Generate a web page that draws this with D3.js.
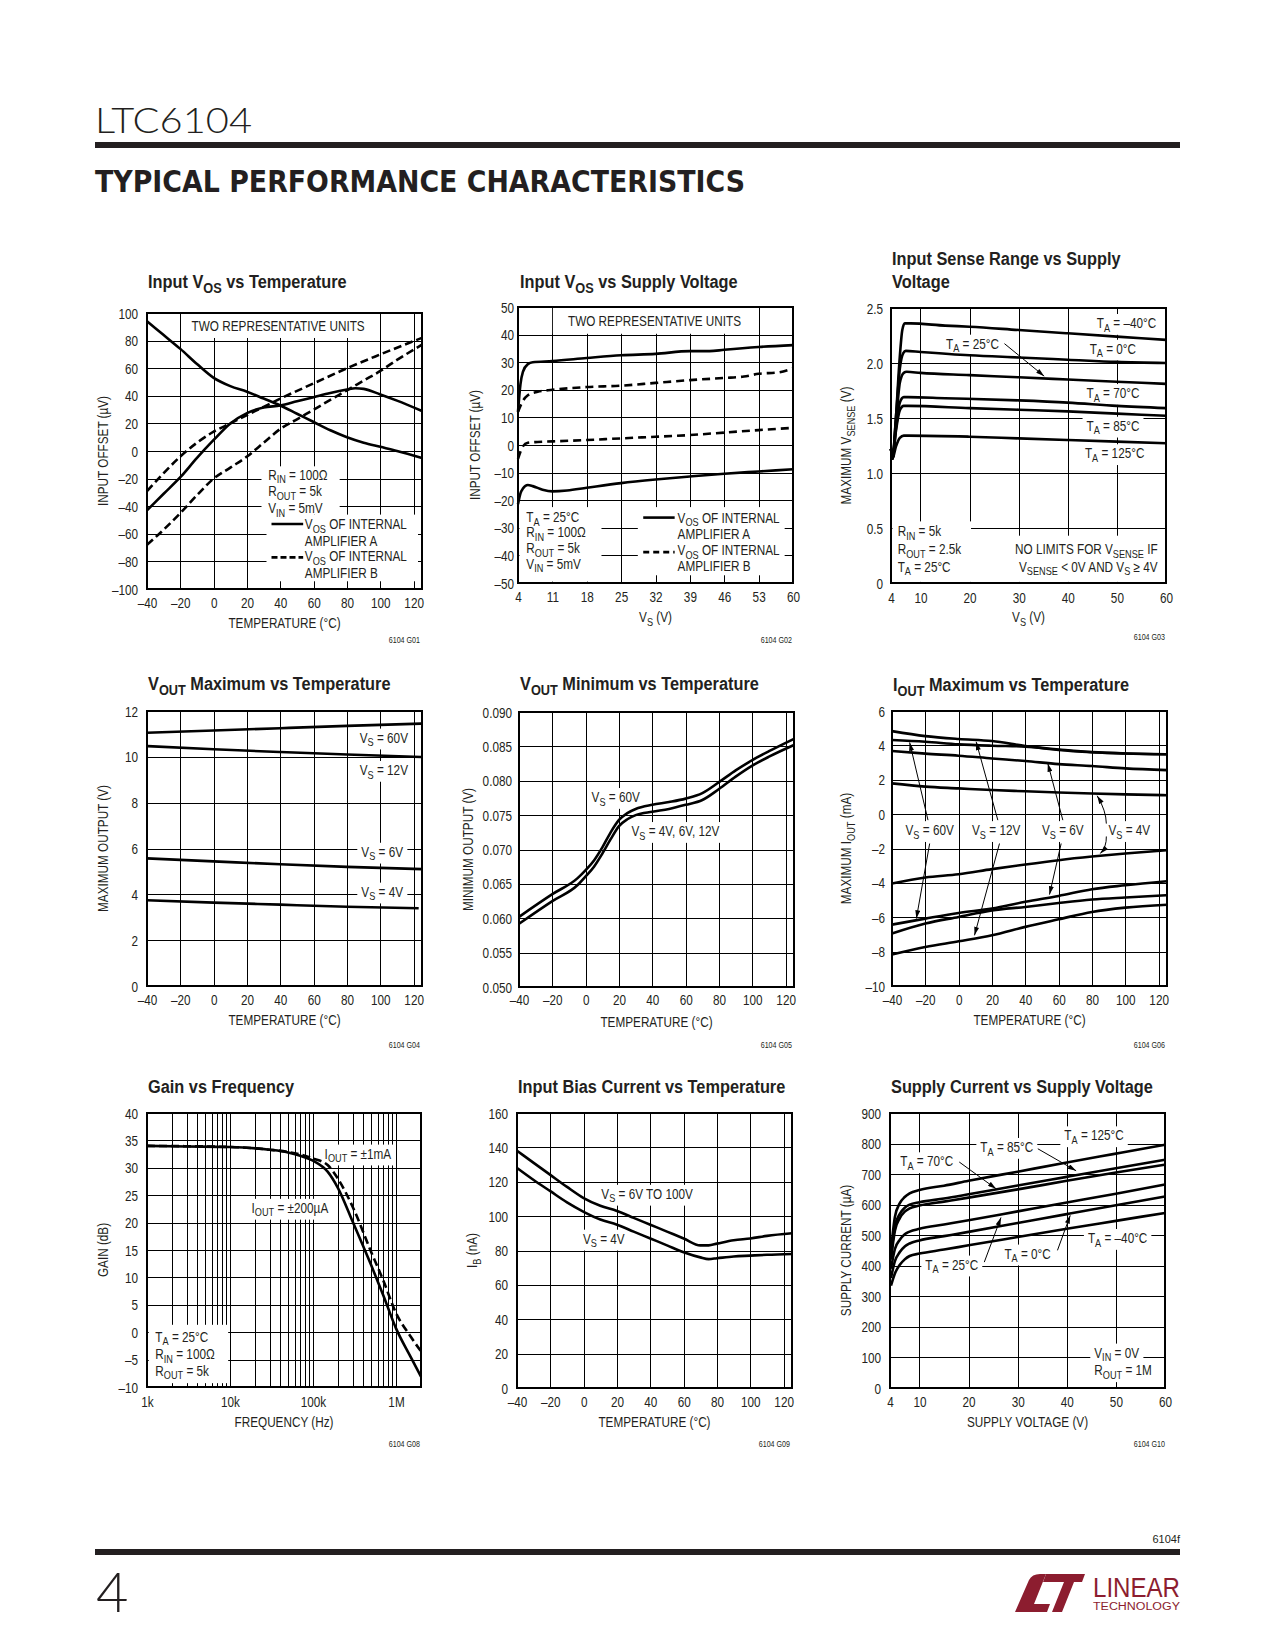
<!DOCTYPE html>
<html><head><meta charset="utf-8">
<script src="https://cdn.jsdelivr.net/npm/d3@7"></script>
<style>
body{margin:0;background:#fff;}
svg{display:block;}
text{white-space:pre;}
</style></head><body>
<svg id="page" width="1275" height="1650"></svg>
<script>
// ================= DATA =================
// G01 Input VOS vs Temperature
const g01TempTicks = [-40,-20,0,20,40,60,80,100,120];
const g01TempLabels = ["–40","–20","0","20","40","60","80","100","120"];
const g01VosTicks = [-100,-80,-60,-40,-20,0,20,40,60,80,100];
const g01VosLabels = ["–100","–80","–60","–40","–20","0","20","40","60","80","100"];
const g01AmpA1 = [[-40,94],[-30,84],[-20,74],[-10,63],[0,53],[10,47],[20,43],[30,38],[40,33],[50,27],[60,21],[70,15],[80,10],[90,6],[100,3],[110,0],[125,-5]];
const g01AmpA2 = [[-40,-43],[-30,-31],[-20,-19],[-10,-5],[0,8],[10,20],[20,27.5],[30,31.5],[40,33],[50,36],[60,39],[70,42],[80,44.5],[85,45.5],[90,45],[100,41],[110,36.5],[125,29]];
const g01AmpB1 = [[-40,-29],[-30,-16],[-20,-4],[-10,6],[0,14],[10,20],[20,26],[30,32],[40,38],[60,49],[80,60],[100,70],[125,82]];
const g01AmpB2 = [[-40,-68],[-30,-57],[-20,-45],[-10,-32],[0,-20],[10,-12],[20,-4],[30,6],[40,16],[50,23],[60,30],[70,37],[80,44],[90,51],[100,58],[110,66],[125,77]];

// G02 Input VOS vs Supply Voltage
const g02VsTicks = [4,11,18,25,32,39,46,53,60];
const g02VsLabels = ["4","11","18","25","32","39","46","53","60"];
const g02VosTicks = [-50,-40,-30,-20,-10,0,10,20,30,40,50];
const g02VosLabels = ["–50","–40","–30","–20","–10","0","10","20","30","40","50"];
const g02AmpA1 = [[4,12],[4.5,22],[5,26.5],[6,29.3],[7,30],[11,30.4],[18,31.5],[25,32.5],[32,33],[39,34],[43,34],[46,34.5],[53,35.5],[60,36.2]];
const g02AmpB1 = [[4,12],[5,16],[6,18],[8,19.3],[11,20],[18,21],[25,21.5],[32,22.5],[39,23.5],[46,24.3],[50,24.8],[53,25.8],[57,26.3],[60,27.8]];
const g02AmpB2 = [[4,-5],[5,-0.5],[6,0.8],[8,1.1],[11,1.3],[18,1.8],[25,2.4],[32,3],[39,3.6],[46,4.5],[53,5.4],[60,6.2]];
const g02AmpA2 = [[4,-21.5],[4.5,-17.5],[5,-15.8],[6,-14.5],[7,-14.9],[9,-16.2],[11,-16.8],[14,-16.5],[18,-15.5],[25,-13.8],[32,-12.5],[39,-11.4],[46,-10.4],[53,-9.6],[60,-8.8]];

// G03 Input Sense Range vs Supply Voltage
const g03VsTicks = [4,10,20,30,40,50,60];
const g03VsLabels = ["4","10","20","30","40","50","60"];
const g03VsGrid = [10,20,30,40,50];
const g03SenseTicks = [0,0.5,1.0,1.5,2.0,2.5];
const g03SenseLabels = ["0","0.5","1.0","1.5","2.0","2.5"];
const g03TaM40 = [[4,1.22],[4.3,1.13],[5,1.5],[5.7,2.0],[6.3,2.3],[6.8,2.36],[8,2.36],[15,2.34],[20,2.33],[30,2.3],[40,2.27],[50,2.24],[60,2.21]];
const g03Ta0 = [[4,1.22],[4.3,1.13],[5,1.5],[5.8,1.95],[6.5,2.09],[7,2.11],[10,2.1],[20,2.07],[30,2.05],[40,2.03],[50,2.01],[60,2.0]];
const g03Ta25 = [[4,1.22],[4.3,1.13],[5,1.45],[5.8,1.82],[6.6,1.91],[7.2,1.92],[10,1.91],[20,1.89],[30,1.87],[40,1.85],[50,1.83],[60,1.81]];
const g03Ta70 = [[4,1.22],[4.3,1.13],[5,1.4],[5.8,1.64],[6.6,1.69],[7.5,1.69],[15,1.68],[30,1.66],[40,1.64],[50,1.61],[60,1.59]];
const g03Ta85 = [[4,1.22],[4.3,1.13],[5,1.38],[5.8,1.57],[6.6,1.61],[7.5,1.61],[20,1.59],[30,1.575],[40,1.56],[50,1.54],[60,1.52]];
const g03Ta125 = [[4,1.22],[4.3,1.13],[5,1.24],[5.8,1.32],[6.6,1.34],[7.5,1.34],[20,1.33],[30,1.315],[40,1.3],[50,1.285],[60,1.27]];

// G04 VOUT Maximum vs Temperature
const g04OutTicks = [0,2,4,6,8,10,12];
const g04OutLabels = ["0","2","4","6","8","10","12"];
const g04Vs60 = [[-40,11.05],[0,11.15],[40,11.25],[80,11.35],[125,11.45]];
const g04Vs12 = [[-40,10.47],[0,10.33],[40,10.21],[80,10.1],[125,9.99]];
const g04Vs6 = [[-40,5.57],[0,5.44],[40,5.31],[80,5.2],[125,5.1]];
const g04Vs4 = [[-40,3.74],[0,3.64],[40,3.55],[80,3.46],[123,3.39]];

// G05 VOUT Minimum vs Temperature
const g05OutTicks = [0.050,0.055,0.060,0.065,0.070,0.075,0.080,0.085,0.090];
const g05OutLabels = ["0.050","0.055","0.060","0.065","0.070","0.075","0.080","0.085","0.090"];
const g05Vs60 = [[-40,0.0602],[-20,0.0635],[-5,0.0658],[0,0.0670],[5,0.0684],[10,0.0703],[15,0.0725],[20,0.0743],[25,0.0753],[30,0.0759],[40,0.0765],[50,0.0769],[60,0.0774],[70,0.0782],[80,0.0798],[90,0.0815],[100,0.0830],[110,0.0843],[125,0.0861]];
const g05VsLow = [[-40,0.0592],[-20,0.0625],[-5,0.0648],[0,0.0661],[5,0.0675],[10,0.0694],[15,0.0715],[20,0.0734],[25,0.0744],[30,0.0750],[40,0.0755],[50,0.0759],[60,0.0765],[70,0.0772],[80,0.0788],[90,0.0806],[100,0.0822],[110,0.0835],[125,0.0852]];

// G06 IOUT Maximum vs Temperature
const g06IoutTicks = [-10,-8,-6,-4,-2,0,2,4,6];
const g06IoutLabels = ["–10","–8","–6","–4","–2","0","2","4","6"];
const g06SrcA = [[-40,4.83],[-20,4.54],[0,4.37],[20,4.25],[40,3.96],[60,3.73],[80,3.6],[100,3.53],[125,3.48]];
const g06SrcB = [[-40,4.31],[-20,4.21],[0,4.06],[20,3.98],[40,3.93],[60,3.76],[80,3.61],[100,3.53],[125,3.48]];
const g06SrcC = [[-40,3.67],[-20,3.52],[0,3.4],[20,3.24],[40,3.09],[60,2.91],[80,2.8],[100,2.66],[125,2.56]];
const g06SrcD = [[-40,1.79],[-20,1.6],[0,1.5],[20,1.4],[40,1.33],[60,1.26],[80,1.2],[100,1.15],[125,1.1]];
const g06SnkA = [[-40,-4.04],[-20,-3.69],[0,-3.5],[20,-3.2],[40,-2.93],[60,-2.68],[80,-2.47],[100,-2.29],[125,-2.1]];
const g06SnkB = [[-40,-6.43],[-20,-6.08],[0,-5.75],[20,-5.5],[40,-5.1],[60,-4.76],[80,-4.37],[100,-4.14],[125,-3.9]];
const g06SnkC = [[-40,-6.95],[-20,-6.37],[0,-5.98],[20,-5.6],[40,-5.4],[60,-5.17],[80,-4.97],[100,-4.85],[125,-4.72]];
const g06SnkD = [[-40,-8.17],[-20,-7.73],[0,-7.4],[20,-7.05],[40,-6.56],[60,-6.12],[80,-5.69],[100,-5.44],[125,-5.27]];

// G08 Gain vs Frequency
const g08FreqTicks = [1e3,1e4,1e5,1e6];
const g08FreqLabels = ["1k","10k","100k","1M"];
const g08GainTicks = [-10,-5,0,5,10,15,20,25,30,35,40];
const g08GainLabels = ["–10","–5","0","5","10","15","20","25","30","35","40"];
const g08I200u = [[1e3,34],[3e3,33.9],[1e4,33.8],[3e4,33.3],[5e4,32.8],[7e4,32.2],[1e5,31.3],[1.5e5,29.3],[2e5,26.3],[3e5,20.2],[5e5,12.3],[7e5,6.8],[1e6,0.7],[1.5e6,-4.5],[2e6,-8.1]];
const g08I1m = [[1e3,34],[1e4,33.8],[3e4,33.3],[5e4,32.9],[1e5,31.7],[1.5e5,30.5],[2e5,28],[3e5,22.9],[5e5,14.7],[7e5,9.5],[1e6,3.5],[1.5e6,-0.8],[2e6,-3.5]];

// G09 Input Bias Current vs Temperature
const g09IbTicks = [0,20,40,60,80,100,120,140,160];
const g09IbLabels = ["0","20","40","60","80","100","120","140","160"];
const g09Vs6to100 = [[-40,138],[-30,131],[-20,124],[-10,117],[0,110.5],[10,106],[20,103],[30,99],[40,95],[50,91],[60,87],[70,83],[75,83],[80,84],[90,86],[100,87],[110,88.5],[125,90]];
const g09Vs4 = [[-40,128],[-30,121],[-20,114.5],[-10,108],[0,102.5],[10,98],[20,95],[30,91],[40,87],[50,83],[60,79],[70,76],[75,75],[80,75.5],[90,76.5],[100,77],[110,77.5],[125,78]];

// G10 Supply Current vs Supply Voltage
const g10IsTicks = [0,100,200,300,400,500,600,700,800,900];
const g10IsLabels = ["0","100","200","300","400","500","600","700","800","900"];
const g10Ta125 = [[4.2,450],[5,560],[6,605],[7,625],[8,637],[10,648],[15,662],[20,678],[30,708],[40,738],[50,767],[60,796]];
const g10Ta85 = [[4.2,430],[5,530],[6,570],[7,590],[8,600],[10,608],[15,620],[20,634],[30,663],[40,691],[50,719],[60,747]];
const g10Ta70 = [[4.2,420],[5,515],[6,556],[7,577],[8,588],[10,597],[15,610],[20,623],[30,650],[40,678],[50,705],[60,731]];
const g10Ta25 = [[4.2,390],[5,455],[6,485],[7,503],[8,512],[10,521],[15,535],[20,549],[30,578],[40,607],[50,636],[60,666]];
const g10Ta0 = [[4.2,360],[5,415],[6,445],[7,463],[8,473],[10,483],[15,497],[20,511],[30,540],[40,569],[50,598],[60,627]];
const g10TaM40 = [[4.2,335],[5,375],[6,403],[7,421],[8,432],[10,440],[15,453],[20,467],[30,494],[40,521],[50,547],[60,573]];

// ================= DRAWING =================
const CF = "'Liberation Sans', Arial, Helvetica, sans-serif";
const INK = '#231f20';
const FS = 14;
const NARROW = 0.84;
const svg = d3.select('#page');

// horizontally condense a text element about its anchor x (emulates a narrow face)
function condense(node, f) {
  const x = parseFloat(node.getAttribute('x')) || 0;
  const prev = node.getAttribute('transform') || '';
  node.setAttribute('transform', `${prev} translate(${(x*(1-f)).toFixed(3)},0) scale(${f},1)`.trim());
  node.__f = f; node.__x = x;
}

svg.append('defs').append('marker').attr('id','ah').attr('viewBox','0 0 10 6')
  .attr('refX',10).attr('refY',3).attr('markerWidth',9).attr('markerHeight',5)
  .attr('markerUnits','userSpaceOnUse').attr('orient','auto')
  .append('path').attr('d','M0,0L10,3L0,6Z').attr('fill','#000');

function rich(t, str, fs, f) {
  const parts = str.split(/(_\{[^}]*\})/);
  let sub = false;
  parts.forEach(p => {
    if (!p) return;
    if (p.startsWith('_{')) {
      t.append('tspan').attr('font-size', fs*0.78).attr('dy', fs*0.26).text(p.slice(2,-1));
      sub = true;
    } else {
      const s = t.append('tspan').text(p);
      if (sub) { s.attr('dy', -fs*0.26); sub = false; }
    }
  });
  condense(t.node(), f || NARROW);
  return t;
}

function makeChart(c) {
  const g = svg.append('g');
  const x = (c.log ? d3.scaleLog() : d3.scaleLinear()).domain(c.xd).range([c.L, c.R]);
  const y = d3.scaleLinear().domain(c.yd).range([c.B, c.T]);
  const gGrid = g.append('g'), gBg = g.append('g'), gCurve = g.append('g'), gFrame = g.append('g'), gText = g.append('g');
  const styleGrid = s => { s.select('.domain').remove(); s.selectAll('line').attr('stroke','#000').attr('stroke-width',1).attr('shape-rendering','crispEdges'); };
  gGrid.append('g').attr('transform',`translate(0,${c.B})`)
    .call(d3.axisBottom(x).tickValues(c.xGrid).tickSize(-(c.B-c.T)).tickFormat(''))
    .call(styleGrid);
  gGrid.append('g').attr('transform',`translate(${c.L},0)`)
    .call(d3.axisLeft(y).tickValues(c.yGrid).tickSize(-(c.R-c.L)).tickFormat(''))
    .call(styleGrid);

  (c.boxes||[]).forEach(b => {
    const x0 = x(b[0]), x1 = x(b[2]), y0 = y(b[1]), y1 = y(b[3]);
    gBg.append('rect').attr('x',Math.min(x0,x1)).attr('y',Math.min(y0,y1))
      .attr('width',Math.abs(x1-x0)).attr('height',Math.abs(y1-y0)).attr('fill','#fff');
  });

  const line = d3.line().x(d=>x(d[0])).y(d=>y(d[1])).curve(d3.curveMonotoneX);
  c.series.forEach(s => {
    const p = gCurve.append('path').attr('d', line(s.data)).attr('fill','none')
      .attr('stroke','#000').attr('stroke-width',2.6).attr('stroke-linejoin','round');
    if (s.dash) p.attr('stroke-dasharray', s.dash);
  });

  (c.swatches||[]).forEach(s => {
    const p = gCurve.append('line').attr('x1',x(s.x0)).attr('x2',x(s.x1)).attr('y1',y(s.y)).attr('y2',y(s.y))
      .attr('stroke','#000').attr('stroke-width',2.6);
    if (s.dash) p.attr('stroke-dasharray', s.dash);
  });

  (c.arrows||[]).forEach(a => {
    let d;
    if (a.c) d = `M${x(a.f[0])},${y(a.f[1])}Q${x(a.c[0])},${y(a.c[1])} ${x(a.t[0])},${y(a.t[1])}`;
    else d = `M${x(a.f[0])},${y(a.f[1])}L${x(a.t[0])},${y(a.t[1])}`;
    gCurve.append('path').attr('d',d).attr('fill','none').attr('stroke','#000').attr('stroke-width',1).attr('marker-end','url(#ah)');
  });

  gFrame.append('rect').attr('x',c.L).attr('y',c.T).attr('width',c.R-c.L).attr('height',c.B-c.T)
    .attr('fill','none').attr('stroke','#000').attr('stroke-width',2);

  gText.append('g').attr('transform',`translate(0,${c.B})`)
    .call(d3.axisBottom(x).tickValues(c.xTicks).tickFormat((d,i)=>c.xLabels[i]).tickSize(0))
    .call(s => { s.select('.domain').remove(); s.attr('font-family',CF).attr('font-size',FS);
      s.selectAll('text').attr('y', c.xTickY - c.B).attr('dy', null).attr('fill', INK)
        .each(function(){ condense(this, NARROW); }); });
  gText.append('g').attr('transform',`translate(${c.L},0)`)
    .call(d3.axisLeft(y).tickValues(c.yTicks).tickFormat((d,i)=>c.yLabels[i]).tickSize(0).tickPadding(c.yPad))
    .call(s => { s.select('.domain').remove(); s.attr('font-family',CF).attr('font-size',FS);
      s.selectAll('text').attr('dy','0.36em').attr('fill', INK)
        .each(function(){ condense(this, NARROW); }); });

  c.title.forEach((t,i) => {
    rich(gText.append('text').attr('x',c.titleX).attr('y',c.titleY[i]).attr('font-family',CF)
      .attr('font-weight','bold').attr('font-size',19).attr('fill',INK), t, 19, 0.86);
  });
  rich(gText.append('text').attr('x',(c.L+c.R)/2).attr('y',c.xTitleY).attr('text-anchor','middle')
    .attr('font-family',CF).attr('font-size',FS).attr('fill',INK), c.xTitle, FS);
  rich(gText.append('text').attr('transform',`translate(${c.yTitleX+5},${(c.T+c.B)/2}) rotate(-90)`)
    .attr('text-anchor','middle').attr('font-family',CF).attr('font-size',FS).attr('fill',INK), c.yTitle, FS);
  rich(gText.append('text').attr('x',c.codeX).attr('y',c.codeY).attr('text-anchor','end')
    .attr('font-family',CF).attr('font-size',8.5).attr('fill',INK), c.code, 8.5);

  (c.labels||[]).forEach(l => {
    const t = gText.append('text').attr('x',x(l.x)).attr('y',y(l.y)+FS*0.36)
      .attr('text-anchor',l.a||'start').attr('font-family',CF).attr('font-size',FS).attr('fill',INK);
    rich(t, l.t, FS);
    if (l.bg) {
      const n = t.node(), bb = n.getBBox(), f = n.__f, ax = n.__x;
      const bx = ax + (bb.x - ax)*f, bw = bb.width*f;
      gBg.append('rect').attr('x',bx-4).attr('y',bb.y-1).attr('width',bw+8).attr('height',bb.height+2).attr('fill','#fff');
    }
  });
  return {x,y};
}

// ---- G01 ----
makeChart({L:147,R:422,T:313,B:589, xd:[-40,125], yd:[-100,100],
  xTicks:g01TempTicks, xLabels:g01TempLabels, yTicks:g01VosTicks, yLabels:g01VosLabels,
  xGrid:g01TempTicks.slice(1), yGrid:g01VosTicks, yPad:9, xTickY:608,
  title:["Input V_{OS} vs Temperature"], titleX:148, titleY:[288],
  xTitle:"TEMPERATURE (°C)", xTitleY:628, yTitle:"INPUT OFFSET (µV)", yTitleX:103,
  code:"6104 G01", codeX:420, codeY:643,
  boxes:[[-19.2,100,96.6,81.9],[28.7,-11.1,75.6,-46.1],[31.7,-46.1,122.6,-94.4]],
  series:[{data:g01AmpA1},{data:g01AmpA2},{data:g01AmpB1,dash:"8,4"},{data:g01AmpB2,dash:"8,4"}],
  swatches:[{x0:34.7,x1:53.7,y:-52.9},{x0:34.7,x1:53.7,y:-77.1,dash:"6,3"}],
  labels:[
    {x:38.7,y:90.3,t:"TWO REPRESENTATIVE UNITS",a:"middle"},
    {x:32.7,y:-17.1,t:"R_{IN} = 100Ω"},
    {x:32.7,y:-29.2,t:"R_{OUT} = 5k"},
    {x:32.7,y:-41.3,t:"V_{IN} = 5mV"},
    {x:54.7,y:-52.9,t:"V_{OS} OF INTERNAL"},
    {x:54.7,y:-65,t:"AMPLIFIER A"},
    {x:54.7,y:-76.4,t:"V_{OS} OF INTERNAL"},
    {x:54.7,y:-88.4,t:"AMPLIFIER B"}]
});

// ---- G02 ----
makeChart({L:518,R:793,T:307,B:583, xd:[4,60], yd:[-50,50],
  xTicks:g02VsTicks, xLabels:g02VsLabels, yTicks:g02VosTicks, yLabels:g02VosLabels,
  xGrid:g02VsTicks, yGrid:g02VosTicks, yPad:4, xTickY:602,
  title:["Input V_{OS} vs Supply Voltage"], titleX:520, titleY:[288],
  xTitle:"V_{S} (V)", xTitleY:622, yTitle:"INPUT OFFSET (µV)", yTitleX:475,
  code:"6104 G02", codeX:792, codeY:643,
  boxes:[[11.1,50,52.5,40.3],[4.3,-22.5,21,-49.5],[28.4,-22.5,58.3,-47.2]],
  series:[{data:g02AmpA1},{data:g02AmpB1,dash:"8,5"},{data:g02AmpB2,dash:"8,5"},{data:g02AmpA2}],
  swatches:[{x0:29.5,x1:35.9,y:-26.3},{x0:29.5,x1:35.9,y:-38.8,dash:"6,4"}],
  labels:[
    {x:31.8,y:44.8,t:"TWO REPRESENTATIVE UNITS",a:"middle"},
    {x:5.7,y:-26.1,t:"T_{A} = 25°C"},
    {x:5.7,y:-31.5,t:"R_{IN} = 100Ω"},
    {x:5.7,y:-37.3,t:"R_{OUT} = 5k"},
    {x:5.7,y:-43,t:"V_{IN} = 5mV"},
    {x:36.5,y:-26.3,t:"V_{OS} OF INTERNAL"},
    {x:36.5,y:-32.1,t:"AMPLIFIER A"},
    {x:36.5,y:-38.2,t:"V_{OS} OF INTERNAL"},
    {x:36.5,y:-44,t:"AMPLIFIER B"}]
});

// ---- G03 ----
makeChart({L:891,R:1166,T:308,B:583, xd:[4,60], yd:[0,2.5],
  xTicks:g03VsTicks, xLabels:g03VsLabels, yTicks:g03SenseTicks, yLabels:g03SenseLabels,
  xGrid:g03VsGrid, yGrid:g03SenseTicks, yPad:8, xTickY:603,
  title:["Input Sense Range vs Supply","Voltage"], titleX:892, titleY:[265,288],
  xTitle:"V_{S} (V)", xTitleY:622, yTitle:"MAXIMUM V_{SENSE} (V)", yTitleX:846,
  code:"6104 G03", codeX:1165, codeY:640,
  boxes:[[4.3,0.56,20.3,0.01],[27.1,0.43,59,0.01]],
  series:[{data:g03TaM40},{data:g03Ta0},{data:g03Ta25},{data:g03Ta70},{data:g03Ta85},{data:g03Ta125}],
  arrows:[{f:[27.1,2.176],t:[35.2,1.88]}],
  labels:[
    {x:58,y:2.364,t:"T_{A} = –40°C",a:"end",bg:1},
    {x:53.9,y:2.13,t:"T_{A} = 0°C",a:"end",bg:1},
    {x:15.2,y:2.176,t:"T_{A} = 25°C",bg:1},
    {x:54.6,y:1.727,t:"T_{A} = 70°C",a:"end",bg:1},
    {x:54.6,y:1.43,t:"T_{A} = 85°C",a:"end",bg:1},
    {x:55.6,y:1.18,t:"T_{A} = 125°C",a:"end",bg:1},
    {x:5.36,y:0.47,t:"R_{IN} = 5k"},
    {x:5.36,y:0.31,t:"R_{OUT} = 2.5k"},
    {x:5.36,y:0.15,t:"T_{A} = 25°C"},
    {x:58.3,y:0.31,t:"NO LIMITS FOR V_{SENSE} IF",a:"end"},
    {x:58.3,y:0.15,t:"V_{SENSE} < 0V AND V_{S} ≥ 4V",a:"end"}]
});

// ---- G04 ----
makeChart({L:147,R:422,T:711,B:986, xd:[-40,125], yd:[0,12],
  xTicks:g01TempTicks, xLabels:g01TempLabels, yTicks:g04OutTicks, yLabels:g04OutLabels,
  xGrid:g01TempTicks.slice(1), yGrid:g04OutTicks, yPad:9, xTickY:1005,
  title:["V_{OUT} Maximum vs Temperature"], titleX:148, titleY:[690],
  xTitle:"TEMPERATURE (°C)", xTitleY:1025, yTitle:"MAXIMUM OUTPUT (V)", yTitleX:103,
  code:"6104 G04", codeX:420, codeY:1048,
  series:[{data:g04Vs60},{data:g04Vs12},{data:g04Vs6},{data:g04Vs4}],
  labels:[
    {x:116.6,y:10.84,t:"V_{S} = 60V",a:"end",bg:1},
    {x:116.6,y:9.43,t:"V_{S} = 12V",a:"end",bg:1},
    {x:113.6,y:5.86,t:"V_{S} = 6V",a:"end",bg:1},
    {x:113.6,y:4.12,t:"V_{S} = 4V",a:"end",bg:1}]
});

// ---- G05 ----
makeChart({L:519,R:794,T:712,B:987, xd:[-40,125], yd:[0.05,0.09],
  xTicks:g01TempTicks, xLabels:g01TempLabels, yTicks:g05OutTicks, yLabels:g05OutLabels,
  xGrid:g01TempTicks.slice(1), yGrid:g05OutTicks, yPad:7, xTickY:1005,
  title:["V_{OUT} Minimum vs Temperature"], titleX:520, titleY:[690],
  xTitle:"TEMPERATURE (°C)", xTitleY:1027, yTitle:"MINIMUM OUTPUT (V)", yTitleX:468,
  code:"6104 G05", codeX:792, codeY:1048,
  series:[{data:g05Vs60},{data:g05VsLow}],
  labels:[
    {x:3.55,y:0.07764,t:"V_{S} = 60V",bg:1},
    {x:27.5,y:0.07269,t:"V_{S} = 4V, 6V, 12V",bg:1}]
});

// ---- G06 ----
makeChart({L:892,R:1167,T:711,B:986, xd:[-40,125], yd:[-10,6],
  xTicks:g01TempTicks, xLabels:g01TempLabels, yTicks:g06IoutTicks, yLabels:g06IoutLabels,
  xGrid:g01TempTicks.slice(1), yGrid:g06IoutTicks, yPad:7, xTickY:1005,
  title:["I_{OUT} Maximum vs Temperature"], titleX:893, titleY:[691],
  xTitle:"TEMPERATURE (°C)", xTitleY:1025, yTitle:"MAXIMUM I_{OUT} (mA)", yTitleX:846,
  code:"6104 G06", codeX:1165, codeY:1048,
  series:[{data:g06SrcA},{data:g06SrcB},{data:g06SrcC},{data:g06SrcD},{data:g06SnkA},{data:g06SnkB},{data:g06SnkC},{data:g06SnkD}],
  arrows:[
    {f:[-18.4,-0.35],t:[-29.4,4.17]},{f:[-17.4,-1.71],t:[-25.4,-6.08]},
    {f:[23.5,-0.35],t:[10.5,4.21]},{f:[24.5,-1.71],t:[9.5,-7.05]},
    {f:[62.5,-0.35],t:[53.5,2.95]},{f:[61.5,-1.71],t:[54.5,-4.68]},
    {f:[88.6,-0.55],c:[88.5,0.2],t:[83.1,1.07]},{f:[88.6,-1.3],c:[88.8,-1.9],t:[85,-2.29]}],
  labels:[
    {x:-17.4,y:-0.93,t:"V_{S} = 60V",a:"middle",bg:1},
    {x:22.5,y:-0.93,t:"V_{S} = 12V",a:"middle",bg:1},
    {x:62.5,y:-0.93,t:"V_{S} = 6V",a:"middle",bg:1},
    {x:102.4,y:-0.93,t:"V_{S} = 4V",a:"middle",bg:1}]
});

// ---- G08 ----
const g08Grid = [];
[1e3,1e4,1e5,1e6].forEach(dec => d3.range(1,10).forEach(k => { const v = k*dec; if (v <= 2e6) g08Grid.push(v); }));
makeChart({L:147,R:421,T:1113,B:1387, xd:[1e3,2e6], yd:[-10,40], log:true,
  xTicks:g08FreqTicks, xLabels:g08FreqLabels, yTicks:g08GainTicks, yLabels:g08GainLabels,
  xGrid:g08Grid.slice(1), yGrid:g08GainTicks, yPad:9, xTickY:1407,
  title:["Gain vs Frequency"], titleX:148, titleY:[1093],
  xTitle:"FREQUENCY (Hz)", xTitleY:1427, yTitle:"GAIN (dB)", yTitleX:103,
  code:"6104 G08", codeX:420, codeY:1447,
  boxes:[[1050,1.35,9500,-9.3]],
  series:[{data:g08I200u},{data:g08I1m,dash:"8,4"}],
  labels:[
    {x:138000,y:32.6,t:"I_{OUT} = ±1mA",bg:1},
    {x:18200,y:22.7,t:"I_{OUT} = ±200µA",bg:1},
    {x:1260,y:-0.78,t:"T_{A} = 25°C"},
    {x:1260,y:-4.0,t:"R_{IN} = 100Ω"},
    {x:1260,y:-7.0,t:"R_{OUT} = 5k"}]
});

// ---- G09 ----
makeChart({L:517,R:792,T:1113,B:1388, xd:[-40,125], yd:[0,160],
  xTicks:g01TempTicks, xLabels:g01TempLabels, yTicks:g09IbTicks, yLabels:g09IbLabels,
  xGrid:g01TempTicks.slice(1), yGrid:g09IbTicks, yPad:9, xTickY:1407,
  title:["Input Bias Current vs Temperature"], titleX:518, titleY:[1093],
  xTitle:"TEMPERATURE (°C)", xTitleY:1427, yTitle:"I_{B} (nA)", yTitleX:472,
  code:"6104 G09", codeX:790, codeY:1447,
  series:[{data:g09Vs6to100},{data:g09Vs4}],
  labels:[
    {x:10.6,y:113,t:"V_{S} = 6V TO 100V",bg:1},
    {x:-0.4,y:86.9,t:"V_{S} = 4V",bg:1}]
});

// ---- G10 ----
makeChart({L:890,R:1165,T:1113,B:1388, xd:[4,60], yd:[0,900],
  xTicks:g03VsTicks, xLabels:g03VsLabels, yTicks:g10IsTicks, yLabels:g10IsLabels,
  xGrid:g03VsGrid, yGrid:g10IsTicks, yPad:9, xTickY:1407,
  title:["Supply Current vs Supply Voltage"], titleX:891, titleY:[1093],
  xTitle:"SUPPLY VOLTAGE (V)", xTitleY:1427, yTitle:"SUPPLY CURRENT (µA)", yTitleX:846,
  code:"6104 G10", codeX:1165, codeY:1447,
  series:[{data:g10Ta125},{data:g10Ta85},{data:g10Ta70},{data:g10Ta25},{data:g10Ta0},{data:g10TaM40}],
  arrows:[
    {f:[18.1,739.6],t:[25.6,652]},{f:[34.1,783],t:[41.9,711]},
    {f:[23.2,412],t:[26.6,558]},{f:[38.1,450.5],t:[40.7,565]}],
  labels:[
    {x:39.5,y:827,t:"T_{A} = 125°C",bg:1},
    {x:22.4,y:789,t:"T_{A} = 85°C",bg:1},
    {x:6.1,y:742,t:"T_{A} = 70°C",bg:1},
    {x:11.2,y:404,t:"T_{A} = 25°C",bg:1},
    {x:27.3,y:440,t:"T_{A} = 0°C",bg:1},
    {x:44.3,y:491,t:"T_{A} = –40°C",bg:1},
    {x:45.6,y:116,t:"V_{IN} = 0V",bg:1},
    {x:45.6,y:58,t:"R_{OUT} = 1M",bg:1}]
});

// ================= PAGE FURNITURE =================
svg.append('text').attr('x',95).attr('y',133).attr('font-family',"'Lato','Open Sans','DejaVu Sans',sans-serif")
  .attr('font-weight',300).attr('font-size',36).attr('textLength',157).attr('lengthAdjust','spacingAndGlyphs')
  .attr('fill',INK).text('LTC6104');
svg.append('rect').attr('x',95).attr('y',142).attr('width',1085).attr('height',6).attr('fill',INK);
svg.append('text').attr('x',95).attr('y',192).attr('font-family',"'DejaVu Sans','Open Sans',sans-serif")
  .attr('font-weight','bold').attr('font-size',30).attr('textLength',650).attr('lengthAdjust','spacingAndGlyphs')
  .attr('fill',INK).text('TYPICAL PERFORMANCE CHARACTERISTICS');

svg.append('text').attr('x',1180).attr('y',1543).attr('text-anchor','end').attr('font-family',CF)
  .attr('font-size',11).attr('fill',INK).text('6104f');
svg.append('rect').attr('x',95).attr('y',1549).attr('width',1085).attr('height',6).attr('fill',INK);
svg.append('text').attr('x',96).attr('y',1612).attr('font-family',"'Lato','Open Sans','DejaVu Sans',sans-serif")
  .attr('font-weight',300).attr('font-size',56).attr('fill',INK).text('4');

const RED = '#8c1d2f';
const logo = svg.append('g').attr('fill',RED);
logo.append('path').attr('d','M1015,1612 L1029,1580 Q1032,1574 1040,1574 L1046,1574 L1034,1604 L1050,1604 L1047,1612 Z');
logo.append('path').attr('d','M1046,1574 L1085,1574 L1082,1582 L1074,1582 L1062,1612 L1052,1612 L1064,1582 L1043,1582 Z');
svg.append('text').attr('x',1093).attr('y',1597).attr('font-family',CF).attr('font-size',28)
  .attr('textLength',87).attr('lengthAdjust','spacingAndGlyphs').attr('fill',RED).text('LINEAR');
svg.append('text').attr('x',1093).attr('y',1610).attr('font-family',CF).attr('font-size',10)
  .attr('textLength',87).attr('lengthAdjust','spacingAndGlyphs').attr('fill',RED).text('TECHNOLOGY');
</script>
</body></html>
